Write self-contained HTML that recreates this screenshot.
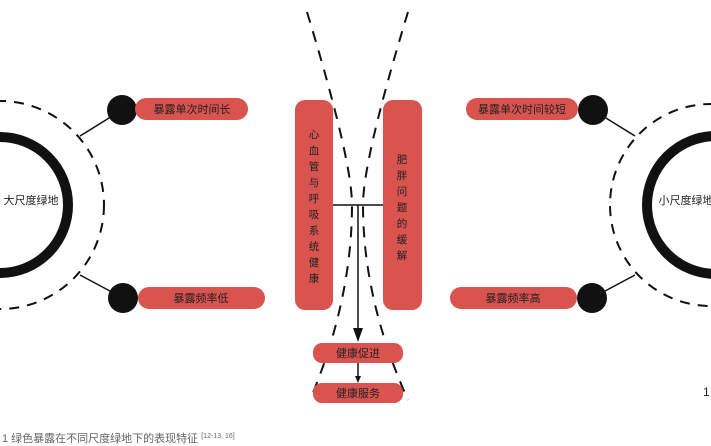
<!DOCTYPE html>
<html><head><meta charset="utf-8"><style>
body{margin:0;background:#fff;width:711px;height:446px;overflow:hidden;font-family:"Liberation Sans","Noto Sans CJK SC",sans-serif}
</style></head><body>
<svg width="711" height="446" xmlns="http://www.w3.org/2000/svg" style="position:absolute;left:0;top:0">
<g fill="none" stroke="#111">
<circle cx="0" cy="205" r="68" stroke-width="10"/>
<circle cx="716" cy="205" r="69" stroke-width="10"/>
<circle cx="0" cy="205" r="104" stroke-width="2" stroke-dasharray="10,8"/>
<circle cx="711" cy="205" r="101" stroke-width="2" stroke-dasharray="10,8"/>
<path d="M307,12 Q352,160 352,205 Q352,300 310,400" stroke-width="2" stroke-dasharray="11,9"/>
<path d="M408,12 Q363,160 363,205 Q363,300 408,400" stroke-width="2" stroke-dasharray="11,9"/>
<path d="M80,136 L122,110 M80,275 L123,298 M635,136 L593,110 M635,275 L592,298" stroke-width="1.5"/>
<path d="M333,205 H383 M358,205 V330 M358,363 V377" stroke-width="1.5"/>
</g>
<path d="M353,328 L363,328 L358,342 Z M355,376 L361,376 L358,383 Z" fill="#111"/>
<g fill="#111"><circle cx="122" cy="110" r="15"/><circle cx="123" cy="298" r="15"/><circle cx="593" cy="110" r="15"/><circle cx="592" cy="298" r="15"/></g>
<g fill="#d9534f">
<rect x="135" y="98" width="113" height="22" rx="11"/>
<rect x="138" y="287" width="127" height="22" rx="11"/>
<rect x="466" y="98" width="112" height="22" rx="11"/>
<rect x="450" y="287" width="127" height="22" rx="11"/>
<rect x="295" y="100" width="38" height="210" rx="10"/>
<rect x="383" y="100" width="39" height="210" rx="10"/>
<rect x="313" y="343" width="90" height="20" rx="9"/>
<rect x="313" y="383" width="90" height="20" rx="9"/>
</g>
<g font-size="11" fill="#222" text-anchor="middle" font-family="Liberation Sans,Noto Sans CJK SC,sans-serif">
<text x="192" y="113">暴露单次时间长</text>
<text x="201" y="302">暴露频率低</text>
<text x="522" y="113">暴露单次时间较短</text>
<text x="513" y="302">暴露频率高</text>
<text x="358" y="357">健康促进</text>
<text x="358" y="397">健康服务</text>
<text x="31" y="204">大尺度绿地</text>
<text x="686" y="204">小尺度绿地</text>
</g>
<g font-size="10.5" fill="#222" text-anchor="middle" font-family="Liberation Sans,Noto Sans CJK SC,sans-serif">
<text x="314" y="138">心</text><text x="314" y="154">血</text><text x="314" y="170">管</text><text x="314" y="186">与</text><text x="314" y="202">呼</text><text x="314" y="218">吸</text><text x="314" y="234">系</text><text x="314" y="250">统</text><text x="314" y="266">健</text><text x="314" y="282">康</text>
<text x="402" y="163">肥</text><text x="402" y="179">胖</text><text x="402" y="195">问</text><text x="402" y="211">题</text><text x="402" y="227">的</text><text x="402" y="243">缓</text><text x="402" y="259">解</text>
</g>
<text x="703" y="396" font-size="12" fill="#222">1</text>
<text x="2" y="442" font-size="11" fill="#666" font-family="Liberation Sans,Noto Sans CJK SC,sans-serif">1 绿色暴露在不同尺度绿地下的表现特征 <tspan font-size="7" dy="-4">[12-13, 16]</tspan></text>
</svg>
</body></html>
